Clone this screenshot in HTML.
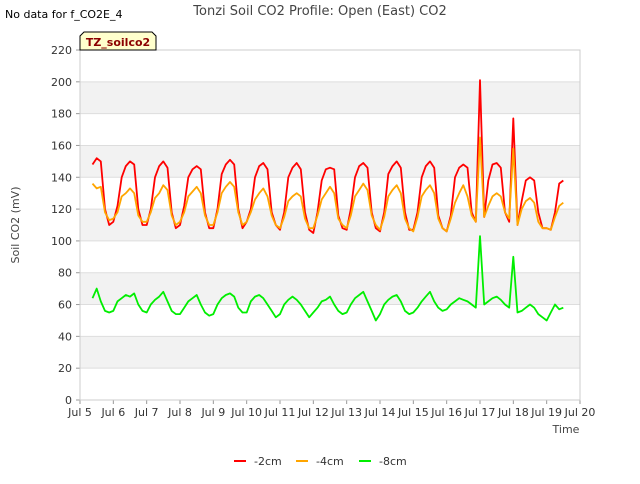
<!DOCTYPE html>
<html><head><meta charset="utf-8"><style>
body{margin:0;background:#fff;font-family:"DejaVu Sans","Liberation Sans",sans-serif;}
svg text{font-family:"DejaVu Sans","Liberation Sans",sans-serif;}
</style></head><body>
<svg id="chart" width="640" height="480" xmlns="http://www.w3.org/2000/svg">
<rect x="0" y="0" width="640" height="480" fill="#fff"/>
<g id="grid"></g>
<g id="axes"></g>
<g id="series"></g>
<text x="320" y="15" text-anchor="middle" font-size="13" fill="#444">Tonzi Soil CO2 Profile: Open (East) CO2</text>
<text x="5" y="18" font-size="11" fill="#000">No data for f_CO2E_4</text>
<g>
<path d="M80,50 L80,36 L84,32 L152,32 L156,36 L156,50 Z" fill="#ffffcc" stroke="#000" stroke-width="1"/>
<text x="118" y="46" text-anchor="middle" font-size="11" font-weight="bold" fill="#8b0000">TZ_soilco2</text>
</g>
<text transform="translate(19,225) rotate(-90)" text-anchor="middle" font-size="11" fill="#444">Soil CO2 (mV)</text>
<text x="566" y="433" text-anchor="middle" font-size="11" fill="#444">Time</text>
<g id="legend"></g>
</svg>
<script>
const yTicks=[0,20,40,60,80,100,120,140,160,180,200,220];
const xTickLabels=["Jul 5","Jul 6","Jul 7","Jul 8","Jul 9","Jul 10","Jul 11","Jul 12","Jul 13","Jul 14","Jul 15","Jul 16","Jul 17","Jul 18","Jul 19","Jul 20"];
const xTickDays=[5,6,7,8,9,10,11,12,13,14,15,16,17,18,19,20];
const startDay=5.375, stepDay=0.125;
const red=[148,152,150,120,110,
112,122,140,147,150,148,120,110,
110,120,140,147,150,146,118,108,
110,122,140,145,147,145,118,108,
108,120,142,148,151,148,120,108,
112,120,140,147,149,145,118,110,
107,118,140,146,149,145,118,107,
105,118,138,145,146,145,116,108,
107,120,140,147,149,146,118,108,
106,118,142,147,150,146,118,107,
107,118,140,147,150,146,116,108,
106,116,140,146,148,146,118,112,
201,115,138,148,149,146,118,112,
177,110,125,138,140,138,118,108,
108,107,118,136,138];
const orange=[136,133,134,118,113,
114,118,128,130,133,130,116,112,
112,118,127,130,135,132,116,110,
112,118,128,131,134,130,116,110,
110,118,130,134,137,134,118,110,
112,118,126,130,133,128,116,110,
108,115,125,128,130,128,114,108,
108,116,126,130,134,130,114,110,
108,116,128,132,136,132,116,110,
107,115,128,132,135,130,114,108,
106,115,128,132,135,130,114,108,
106,114,124,130,135,128,116,112,
165,115,122,128,130,128,118,114,
158,110,120,125,127,124,112,108,
108,107,115,122,124];
const green=[64,70,62,56,55,
56,62,64,66,65,67,60,56,
55,60,63,65,68,62,56,54,
54,58,62,64,66,60,55,53,
54,60,64,66,67,65,58,55,
55,62,65,66,64,60,56,52,
54,60,63,65,63,60,56,52,
55,58,62,63,65,60,56,54,
55,60,64,66,68,62,56,50,
54,60,63,65,66,62,56,54,
55,58,62,65,68,62,58,56,
57,60,62,64,63,62,60,58,
103,60,62,64,65,63,60,58,
90,55,56,58,60,58,54,52,
50,55,60,57,58];
const seriesNames=["-2cm","-4cm","-8cm"];
const seriesColors=["#ff0000","#ffa500","#00ee00"];
const NS="http://www.w3.org/2000/svg";
const L=80,R=580,T=50,B=400;
const xs=d=>L+(d-5)/15*(R-L);
const ys=v=>B-v/220*(B-T);
function mk(tag,attrs,parent){const e=document.createElementNS(NS,tag);for(const k in attrs)e.setAttribute(k,attrs[k]);parent.appendChild(e);return e;}
const grid=document.getElementById('grid'),axes=document.getElementById('axes'),ser=document.getElementById('series'),leg=document.getElementById('legend');
mk('rect',{x:L,y:T,width:R-L,height:B-T,fill:'#fff'},grid);
for(let i=0;i<yTicks.length-1;i++){
 if(i%2===1){const r=mk('rect',{x:L,y:ys(yTicks[i+1]),width:R-L,height:ys(yTicks[i])-ys(yTicks[i+1]),fill:'#f2f2f2'},grid);
 
 }
}
yTicks.forEach(v=>{
 const l=mk('line',{x1:L,x2:R,y1:ys(v),y2:ys(v),stroke:'#ddd','stroke-width':1},grid);
 
 
 const t=mk('text',{x:L-8,y:ys(v)+4,'text-anchor':'end','font-size':11,fill:'#333'},axes);
 t.textContent=v;
 
 
 mk('line',{x1:L-4,x2:L,y1:ys(v),y2:ys(v),stroke:'#999'},axes);
});
xTickDays.forEach((d,i)=>{
 const t=mk('text',{x:xs(d),y:416,'text-anchor':'middle','font-size':11,fill:'#333'},axes);
 t.textContent=xTickLabels[i];
 
 
 mk('line',{x1:xs(d),x2:xs(d),y1:B,y2:B+4,stroke:'#999'},axes);
});
mk('rect',{x:L,y:T,width:R-L,height:B-T,fill:'none',stroke:'#ccc'},axes);
[red,orange,green].forEach((arr,si)=>{
 const pts=arr.map((v,i)=>xs(startDay+i*stepDay).toFixed(1)+','+ys(v).toFixed(1)).join(' ');
 const p=mk('polyline',{points:pts,fill:'none',stroke:seriesColors[si],'stroke-width':1.8,'stroke-linejoin':'round'},ser);
 
 
});
const lx=[234,296,359];
seriesNames.forEach((n,i)=>{
 const g=mk('g',{},leg);
 
 
 mk('line',{x1:lx[i],x2:lx[i]+12,y1:461,y2:461,stroke:seriesColors[i],'stroke-width':2},g);
 const t=mk('text',{x:lx[i]+20,y:465,'font-size':11,fill:'#333'},g);
 t.textContent=n;
});
</script>
</body></html>
